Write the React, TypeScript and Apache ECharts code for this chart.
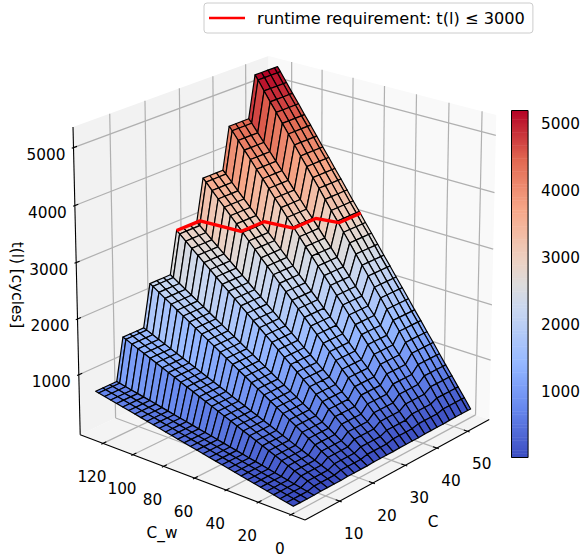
import React, { useEffect, useRef } from "react";
import * as echarts from "echarts";

// ---- data ----
const cSamples = [1,3,5,7,9,11,13,15,17,19,21,23,25,27,29,31,33,35,37,39,41,43,45,47,49,51,53,55,56];
const cTerrace = [0,0,0,0,1,1,1,1,2,2,2,2,3,3,3,3,4,4,4,4,5,5,5,5,6,6,6,6,6];
const cwSamples = [1,5,9,13,17,21,25,29,33,37,41,45,49,53,57,61,65,69,73,77,81,85,89,93,97,101,105,109,113,117,121,125,127];
const terrace1 = [6,30,53,77,100,124,148,171,195,218,242,266,289,313,336,360,384,407,431,454,478,502,525,549,572,596,620,643,667,690,714,738,749];
const terrace2 = [12,60,106,154,200,248,296,342,390,436,484,532,578,626,672,720,768,814,862,908,956,1004,1050,1098,1144,1192,1240,1286,1334,1380,1428,1476,1498];
const terrace3 = [18,90,159,231,300,372,444,513,585,654,726,798,867,939,1008,1080,1152,1221,1293,1362,1434,1506,1575,1647,1716,1788,1860,1929,2001,2070,2142,2214,2247];
const terrace4 = [24,120,212,308,400,496,592,684,780,872,968,1064,1156,1252,1344,1440,1536,1628,1724,1816,1912,2008,2100,2196,2288,2384,2480,2572,2668,2760,2856,2952,2996];
const terrace5 = [30,150,265,385,500,620,740,855,975,1090,1210,1330,1445,1565,1680,1800,1920,2035,2155,2270,2390,2510,2625,2745,2860,2980,3100,3215,3335,3450,3570,3690,3745];
const terrace6 = [36,180,318,462,600,744,888,1026,1170,1308,1452,1596,1734,1878,2016,2160,2304,2442,2586,2724,2868,3012,3150,3294,3432,3576,3720,3858,4002,4140,4284,4428,4494];
const terrace7 = [42,210,371,539,700,868,1036,1197,1365,1526,1694,1862,2023,2191,2352,2520,2688,2849,3017,3178,3346,3514,3675,3843,4004,4172,4340,4501,4669,4830,4998,5166,5243];
const terraces = [terrace1, terrace2, terrace3, terrace4, terrace5, terrace6, terrace7];

const limitC = [25, 32, 33, 40, 41, 48, 49, 56];
const limitCw = [127, 127, 102, 102, 85, 85, 72, 72];
const limitT = [2996, 2996, 2990, 2990, 2990, 2990, 2998, 2998];

const cTicks = [10, 20, 30, 40, 50];
const cwTicks = [0, 20, 40, 60, 80, 100, 120];
const tTicks = [1000, 2000, 3000, 4000, 5000];
const legendName = "runtime requirement: t(l) \u2264 3000";

const cLim = [-0.15, 57.15];
const cwLim = [-8.5, 135.4];
const tLim = [-92, 5354];
const colorMin = 18;
const colorMax = 5204;

// coolwarm colour stops
const cmapPos = [0, 0.143, 0.25, 0.286, 0.429, 0.5, 0.571, 0.714, 0.857, 1];
const cmapHex = ["#3b4cc0", "#6788ee", "#8db0fe", "#9abbff", "#c9d7f0", "#dddcdc", "#edd1c2", "#f7a889", "#e26952", "#b40426"];

const FONT = '"DejaVu Sans"';
const TICK_FONT = `15.3px ${FONT}`;

function hexRgb(h: string) {
  return [1, 3, 5].map((i) => parseInt(h.slice(i, i + 2), 16));
}
function cmap(v: number) {
  const x = Math.min(1, Math.max(0, (v - colorMin) / (colorMax - colorMin)));
  let i = 0;
  while (i < cmapPos.length - 2 && x > cmapPos[i + 1]) i++;
  const r = (x - cmapPos[i]) / (cmapPos[i + 1] - cmapPos[i]);
  const a = hexRgb(cmapHex[i]);
  const b = hexRgb(cmapHex[i + 1]);
  return `rgb(${a.map((n, k) => Math.round(n + (b[k] - n) * r)).join(",")})`;
}

// matplotlib-style 3D camera
const ELEV = (20 * Math.PI) / 180;
const AZIM = (-140 * Math.PI) / 180;
const DIST = 10;
const SX = 295.3, SY = 325.7, OX = 285.9, OY = 276.6;
const n3 = [Math.cos(ELEV) * Math.cos(AZIM), Math.cos(ELEV) * Math.sin(AZIM), Math.sin(ELEV)];
const u3 = [-Math.sin(AZIM), Math.cos(AZIM), 0];
const v3 = [-Math.sin(ELEV) * Math.cos(AZIM), -Math.sin(ELEV) * Math.sin(AZIM), Math.cos(ELEV)];
const dot = (a: number[], b: number[]) => a[0] * b[0] + a[1] * b[1] + a[2] * b[2];
function norm3(c: number, cw: number, t: number) {
  return [
    (c - cLim[0]) / (cLim[1] - cLim[0]) - 0.5,
    (cw - cwLim[0]) / (cwLim[1] - cwLim[0]) - 0.5,
    (t - tLim[0]) / (tLim[1] - tLim[0]) - 0.5,
  ];
}
function depth(c: number, cw: number, t: number) {
  return DIST - dot(n3, norm3(c, cw, t));
}
function project(c: number, cw: number, t: number) {
  const q = norm3(c, cw, t);
  const w = DIST - dot(n3, q);
  return [OX + (SX * DIST * dot(u3, q)) / w, OY - (SY * DIST * dot(v3, q)) / w];
}

// faces sorted far to near
const tAt = (i: number, j: number) => terraces[cTerrace[i]][j];
type Face = [number, number, number];
const faces: Face[] = [];
for (let i = 0; i < cSamples.length - 1; i++) {
  for (let j = 0; j < cwSamples.length - 1; j++) {
    let d = 0;
    for (const [a, b] of [[i, j], [i + 1, j], [i + 1, j + 1], [i, j + 1]]) d += depth(cSamples[a], cwSamples[b], tAt(a, b));
    faces.push([i, j, d / 4]);
  }
}
faces.sort((a, b) => b[2] - a[2]);

const [c0, c1] = cLim;
const [w0, w1] = cwLim;
const [t0, t1] = tLim;

const panes = [
  { fill: "#f4f4f4", pts: [[c0, w0, t0], [c1, w0, t0], [c1, w1, t0], [c0, w1, t0]] },
  { fill: "#f2f2f2", pts: [[c0, w1, t0], [c1, w1, t0], [c1, w1, t1], [c0, w1, t1]] },
  { fill: "#f9f9f9", pts: [[c1, w0, t0], [c1, w1, t0], [c1, w1, t1], [c1, w0, t1]] },
];

type Seg = number[];
const gridSegs: Seg[] = [];
for (const c of cTicks) {
  gridSegs.push([c, w0, t0, c, w1, t0]);
  gridSegs.push([c, w1, t0, c, w1, t1]);
}
for (const w of cwTicks) {
  gridSegs.push([c0, w, t0, c1, w, t0]);
  gridSegs.push([c1, w, t0, c1, w, t1]);
}
for (const t of tTicks) {
  gridSegs.push([c0, w1, t, c1, w1, t]);
  gridSegs.push([c1, w1, t, c1, w0, t]);
}

const cSpan = c1 - c0;
const wSpan = w1 - w0;
const axisSegs: Seg[] = [
  [c0, w0, t0, c1, w0, t0],
  [c0, w0, t0, c0, w1, t0],
  [c0, w1, t0, c0, w1, t1],
];
for (const c of cTicks) axisSegs.push([c, w0 - wSpan * 0.0083, t0, c, w0 + wSpan * 0.0167, t0]);
for (const w of cwTicks) axisSegs.push([c0 - cSpan * 0.0083, w, t0, c0 + cSpan * 0.0167, w, t0]);
for (const t of tTicks) axisSegs.push([c0 - cSpan * 0.0083, w1, t, c0 + cSpan * 0.0167, w1, t]);

type Lab = { text: string; p: number[]; dx: number; dy: number; align: string };
const labels: Lab[] = [
  ...cTicks.map((c) => ({ text: String(c), p: [c, w0, t0], dx: 14, dy: 33, align: "center" })),
  ...cwTicks.map((w) => ({ text: String(w), p: [c0, w, t0], dx: -11, dy: 34, align: "center" })),
  ...tTicks.map((t) => ({ text: String(t), p: [c0, w1, t], dx: -8, dy: 7, align: "right" })),
];

const cbarSteps = Array.from({ length: 240 }, (_, k) => k);
const limitPoints = limitC.map((c, k) => project(c, limitCw[k], limitT[k]));

export default function App() {
  const ref = useRef<HTMLDivElement>(null);
  useEffect(() => {
    document.body.style.margin = "0";
    const chart = echarts.init(ref.current!, undefined, { renderer: "svg" });
    const segRender = (color: string, width: number) => (_: any, api: any) => {
      const a = project(api.value(0), api.value(1), api.value(2));
      const b = project(api.value(3), api.value(4), api.value(5));
      const pa = api.coord(a);
      const pb = api.coord(b);
      return {
        type: "line",
        shape: { x1: pa[0], y1: pa[1], x2: pb[0], y2: pb[1] },
        style: { stroke: color, lineWidth: width, lineCap: "butt" },
      };
    };
    chart.setOption({
      animation: false,
      backgroundColor: "#ffffff",
      tooltip: { show: false },
      grid: [
        { left: 0, top: 0, width: 583, height: 558 },
        { left: 511.5, top: 110.5, width: 17.5, height: 347 },
      ],
      xAxis: [
        { type: "value", gridIndex: 0, min: 0, max: 583, show: false },
        { type: "value", gridIndex: 1, min: 0, max: 1, show: false },
      ],
      yAxis: [
        { type: "value", gridIndex: 0, min: 0, max: 558, inverse: true, show: false },
        {
          type: "value",
          gridIndex: 1,
          position: "right",
          min: colorMin,
          max: colorMax,
          splitLine: { show: false },
          axisLine: { show: false },
          axisTick: { show: true, length: 5, customValues: tTicks, lineStyle: { color: "#000", width: 1 } },
          axisLabel: {
            show: true,
            margin: 13,
            customValues: tTicks,
            formatter: (v: number) => String(v),
            color: "#000",
            fontSize: 15.3,
            fontFamily: FONT,
          },
        },
      ],
      legend: {
        left: 204,
        top: 3,
        padding: [7, 8, 7, 5],
        itemWidth: 36,
        itemHeight: 2.5,
        icon: "rect",
        selectedMode: false,
        backgroundColor: "#ffffff",
        borderColor: "#cccccc",
        borderWidth: 1,
        borderRadius: 3,
        data: [{ name: legendName, icon: "rect", itemStyle: { color: "#ff0000" } }],
        textStyle: { color: "#000", fontSize: 16.2, fontFamily: FONT, padding: [0, 0, 0, 7] },
      },
      series: [
        {
          type: "custom",
          name: "panes",
          silent: true,
          z: 1,
          data: panes.map((_, i) => [i]),
          renderItem: (params: any, api: any) => {
            const p = panes[params.dataIndex];
            return {
              type: "polygon",
              shape: { points: p.pts.map((q) => api.coord(project(q[0], q[1], q[2]))) },
              style: { fill: p.fill },
            };
          },
        },
        { type: "custom", name: "grid", silent: true, z: 2, data: gridSegs, renderItem: segRender("#b0b0b0", 1.2) },
        { type: "custom", name: "axes", silent: true, z: 3, data: axisSegs, renderItem: segRender("#000000", 1.1) },
        {
          type: "custom",
          name: "surface",
          silent: true,
          z: 4,
          data: faces.map((f) => [f[0], f[1]]),
          renderItem: (params: any, api: any) => {
            const [i, j] = faces[params.dataIndex];
            const corners = [[i, j], [i + 1, j], [i + 1, j + 1], [i, j + 1]];
            const avg = corners.reduce((s, [a, b]) => s + tAt(a, b), 0) / 4;
            return {
              type: "polygon",
              z2: params.dataIndex,
              shape: { points: corners.map(([a, b]) => api.coord(project(cSamples[a], cwSamples[b], tAt(a, b)))) },
              style: { fill: cmap(avg), stroke: "#000", lineWidth: 1.2, lineJoin: "round" },
            };
          },
        },
        {
          type: "line",
          name: legendName,
          z: 5,
          silent: true,
          xAxisIndex: 0,
          yAxisIndex: 0,
          symbol: "none",
          data: limitPoints,
          lineStyle: { color: "#ff0000", width: 3.3 },
          itemStyle: { color: "#ff0000" },
        },
        {
          type: "custom",
          name: "labels",
          silent: true,
          z: 6,
          data: labels.map((_, i) => [i]),
          renderItem: (params: any, api: any) => {
            const l = labels[params.dataIndex];
            const pt = api.coord(project(l.p[0], l.p[1], l.p[2]));
            return {
              type: "text",
              x: pt[0] + l.dx,
              y: pt[1] + l.dy,
              style: { text: l.text, font: TICK_FONT, fill: "#000", align: l.align, verticalAlign: "middle" },
            };
          },
        },
        {
          type: "custom",
          name: "colorbar",
          silent: true,
          z: 2,
          xAxisIndex: 1,
          yAxisIndex: 1,
          data: cbarSteps.map((k) => [k]),
          renderItem: (_: any, api: any) => {
            const k = api.value(0);
            const lo = colorMin + ((colorMax - colorMin) * k) / cbarSteps.length;
            const hi = colorMin + ((colorMax - colorMin) * (k + 1)) / cbarSteps.length;
            const a = api.coord([0, hi]);
            const b = api.coord([1, lo]);
            return {
              type: "rect",
              shape: { x: a[0], y: a[1], width: b[0] - a[0], height: b[1] - a[1] + 0.6 },
              style: { fill: cmap((lo + hi) / 2) },
            };
          },
        },
        {
          type: "custom",
          name: "colorbarFrame",
          silent: true,
          z: 3,
          xAxisIndex: 1,
          yAxisIndex: 1,
          data: [[0]],
          renderItem: (_: any, api: any) => {
            const a = api.coord([0, colorMax]);
            const b = api.coord([1, colorMin]);
            return {
              type: "rect",
              shape: { x: a[0], y: a[1], width: b[0] - a[0], height: b[1] - a[1] },
              style: { fill: "none", stroke: "#000", lineWidth: 1 },
            };
          },
        },
      ],
      graphic: [
        { type: "text", x: 162, y: 533, silent: true, style: { text: "C_w", font: TICK_FONT, fill: "#000", align: "center", verticalAlign: "middle" } },
        { type: "text", x: 433, y: 522, silent: true, style: { text: "C", font: TICK_FONT, fill: "#000", align: "center", verticalAlign: "middle" } },
        { type: "text", x: 17, y: 285, rotation: -Math.PI / 2, silent: true, style: { text: "t(l) [cycles]", font: TICK_FONT, fill: "#000", align: "center", verticalAlign: "middle" } },
      ],
    });
    return () => chart.dispose();
  }, []);
  return <div ref={ref} style={{ position: "absolute", left: 0, top: 0, width: 583, height: 558 }} />;
}
